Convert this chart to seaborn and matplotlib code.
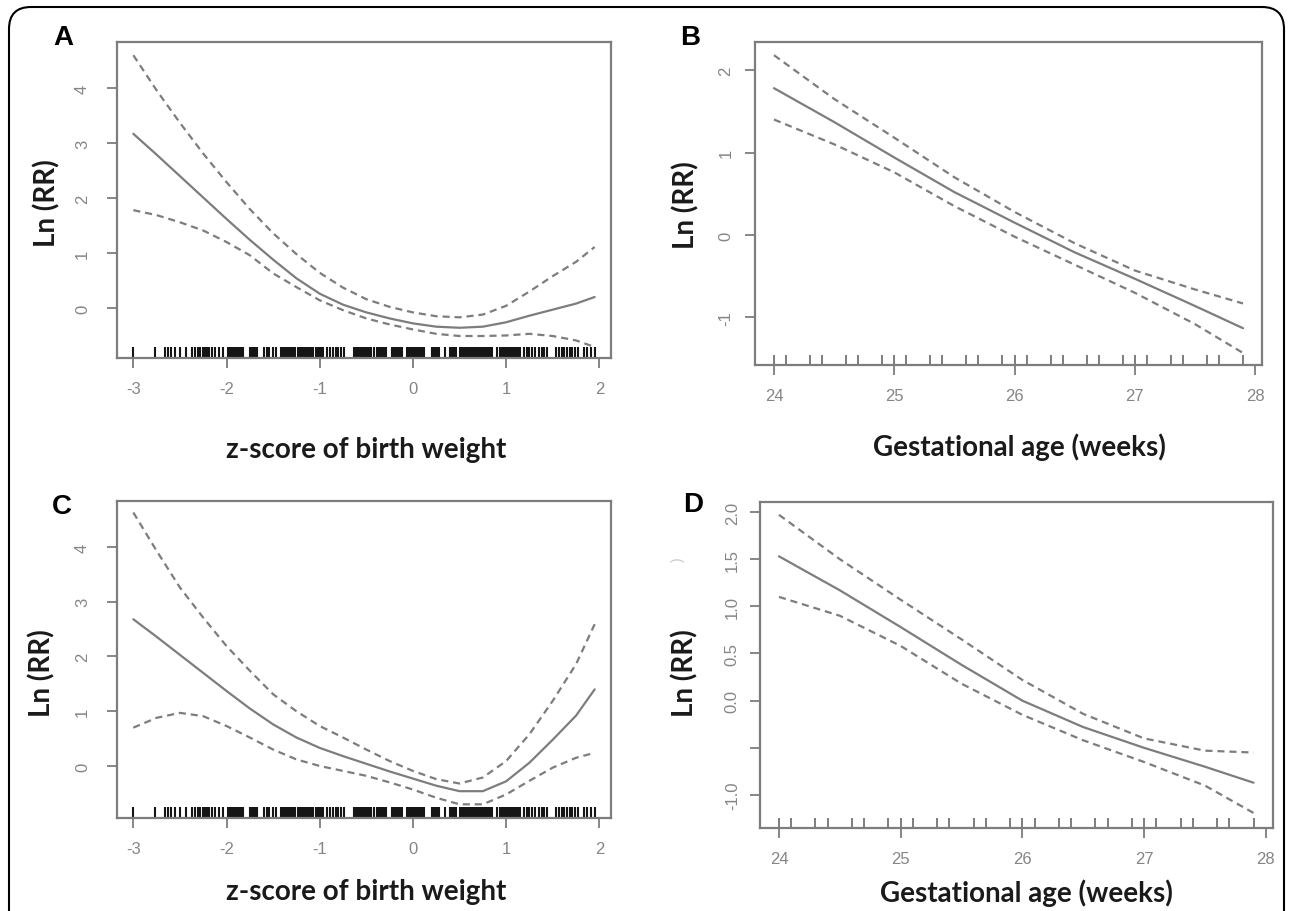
import matplotlib
matplotlib.use("Agg")
import matplotlib.pyplot as plt
import seaborn as sns
from matplotlib.patches import FancyBboxPatch
from matplotlib.transforms import IdentityTransform

# ---- data ----
# z-score of birth weight panels (A: upper, C: lower)
z_grid = [-3.0, -2.75, -2.5, -2.25, -2.0, -1.75, -1.5, -1.25, -1.0, -0.75, -0.5,
          -0.25, 0.0, 0.25, 0.5, 0.75, 1.0, 1.25, 1.5, 1.75, 1.95]
fit_a = [3.17, 2.79, 2.40, 2.01, 1.62, 1.24, 0.88, 0.54, 0.26, 0.06, -0.08,
         -0.19, -0.28, -0.34, -0.36, -0.34, -0.26, -0.14, -0.03, 0.08, 0.20]
upr_a = [4.60, 3.96, 3.37, 2.81, 2.29, 1.80, 1.36, 0.98, 0.64, 0.37, 0.16,
         0.02, -0.08, -0.15, -0.17, -0.12, 0.04, 0.30, 0.58, 0.84, 1.11]
lwr_a = [1.78, 1.69, 1.56, 1.41, 1.20, 0.96, 0.63, 0.38, 0.14, -0.04, -0.19,
         -0.30, -0.39, -0.47, -0.51, -0.51, -0.50, -0.47, -0.51, -0.59, -0.71]

fit_c = [2.68, 2.36, 2.03, 1.70, 1.37, 1.05, 0.76, 0.52, 0.33, 0.18, 0.04,
         -0.10, -0.23, -0.36, -0.46, -0.46, -0.28, 0.06, 0.48, 0.92, 1.40]
upr_c = [4.63, 3.93, 3.26, 2.71, 2.19, 1.74, 1.31, 1.00, 0.73, 0.52, 0.30,
         0.09, -0.09, -0.24, -0.32, -0.21, 0.09, 0.58, 1.19, 1.86, 2.59]
lwr_c = [0.70, 0.88, 0.97, 0.91, 0.73, 0.52, 0.30, 0.12, 0.00, -0.09, -0.18,
         -0.30, -0.43, -0.58, -0.70, -0.70, -0.52, -0.27, -0.03, 0.15, 0.24]

# gestational age panels (B: upper, D: lower)
ga = [24.0, 24.5, 25.0, 25.5, 26.0, 26.5, 27.0, 27.5, 27.9]
fit_b = [1.78, 1.37, 0.94, 0.52, 0.15, -0.21, -0.53, -0.86, -1.13]
upr_b = [2.18, 1.65, 1.18, 0.70, 0.28, -0.10, -0.43, -0.66, -0.83]
lwr_b = [1.40, 1.10, 0.76, 0.35, -0.02, -0.36, -0.70, -1.08, -1.43]

fit_d = [1.53, 1.17, 0.78, 0.38, 0.00, -0.28, -0.50, -0.70, -0.87]
upr_d = [1.97, 1.50, 1.07, 0.65, 0.22, -0.14, -0.40, -0.53, -0.55]
lwr_d = [1.10, 0.90, 0.58, 0.18, -0.15, -0.42, -0.65, -0.90, -1.19]

# rug positions (observations)
rug_z = [
    -3.00, -2.77, -2.66, -2.63, -2.60, -2.55, -2.50, -2.43, -2.37, -2.34,
    -2.31, -2.28, -2.25, -2.23, -2.21, -2.19, -2.16, -2.12, -2.08, -2.04,
    -1.98, -1.96, -1.94, -1.92, -1.90, -1.88, -1.86, -1.84, -1.82,
    -1.75, -1.73, -1.71, -1.69, -1.67,
    -1.60, -1.57, -1.54, -1.50, -1.47,
    -1.42, -1.40, -1.38, -1.36, -1.34, -1.32, -1.30, -1.28, -1.26,
    -1.23, -1.21, -1.19, -1.17, -1.15, -1.13, -1.11, -1.09, -1.07,
    -1.04, -1.02, -1.00, -0.98, -0.96,
    -0.92, -0.89, -0.86, -0.83, -0.80, -0.77, -0.74,
    -0.63, -0.61, -0.59, -0.57, -0.55, -0.53, -0.51, -0.49, -0.47, -0.45,
    -0.42, -0.39, -0.37, -0.35, -0.33, -0.31, -0.29,
    -0.22, -0.20, -0.18, -0.16, -0.14, -0.12,
    -0.06, -0.04, -0.02, 0.00, 0.02, 0.04, 0.06, 0.08, 0.10, 0.12,
    0.20, 0.22, 0.24, 0.26, 0.28, 0.34,
    0.40, 0.42, 0.44, 0.46,
    0.51, 0.53, 0.55, 0.57, 0.59, 0.61, 0.63, 0.65, 0.67, 0.69,
    0.71, 0.73, 0.75, 0.77, 0.79, 0.81, 0.83, 0.85,
    0.90, 0.93, 0.95, 0.97, 0.99, 1.01, 1.03, 1.05, 1.07, 1.09,
    1.11, 1.13, 1.15,
    1.19, 1.22, 1.25, 1.28, 1.31, 1.35, 1.38, 1.41, 1.44,
    1.54, 1.57, 1.60, 1.62, 1.65, 1.68, 1.71, 1.74, 1.77,
    1.83, 1.87, 1.91, 1.95,
]
rug_ga = [24.0, 24.1, 24.3, 24.4, 24.6, 24.7, 24.9,
          25.0, 25.1, 25.3, 25.4, 25.6, 25.7, 25.9,
          26.0, 26.1, 26.3, 26.4, 26.6, 26.7, 26.9,
          27.0, 27.1, 27.3, 27.4, 27.6, 27.7, 27.9]

z_ticks = [-3, -2, -1, 0, 1, 2]
ga_ticks = [24, 25, 26, 27, 28]

# ---- style ----
sns.set_theme(style="white")
plt.rcParams["font.family"] = ["Liberation Sans", "DejaVu Sans"]

W, H = 1290, 912
GREY = "#7d7d7d"
TICK_TXT = "#858585"
DASH = (0, (3.2, 2.2))
LAB_FONT = "Lato"

fig = plt.figure(figsize=(W / 100, H / 100), dpi=100)
fig.patch.set_facecolor("white")


def add_panel(left, top, right, bottom):
    return fig.add_axes([left / W, 1 - bottom / H, (right - left) / W, (bottom - top) / H])


def draw_panel(ax, x, fit, upr, lwr, rug, rug_color, rug_h, rug_w):
    sns.lineplot(x=x, y=fit, ax=ax, color=GREY, lw=1.6, sort=False)
    sns.lineplot(x=x, y=upr, ax=ax, color=GREY, lw=1.6, linestyle=DASH, sort=False)
    sns.lineplot(x=x, y=lwr, ax=ax, color=GREY, lw=1.6, linestyle=DASH, sort=False)
    sns.rugplot(x=rug, ax=ax, height=rug_h, color=rug_color, linewidth=rug_w,
                expand_margins=False)
    for sp in ax.spines.values():
        sp.set_visible(True)
        sp.set_color(GREY)
        sp.set_linewidth(1.6)
    ax.set_facecolor("white")
    ax.grid(False)


def style_axis(ax, xlabel, xlab_px, ylab_px, ypad, box):
    left, top, right, bottom = box
    wpx, hpx = right - left, bottom - top
    ax.tick_params(axis="both", direction="out", length=7.5, width=1.3,
                   color=GREY, labelcolor=TICK_TXT, labelsize=12,
                   bottom=True, left=True)
    ax.tick_params(axis="x", pad=9)
    ax.tick_params(axis="y", pad=ypad, labelrotation=90)
    for lab in ax.get_yticklabels():
        lab.set_va("center")
    ax.set_xlabel(xlabel, fontsize=20, fontweight="bold", family=LAB_FONT, color="#1a1a1a")
    ax.set_ylabel("Ln (RR)", fontsize=20, fontweight="bold", family=LAB_FONT, color="#1a1a1a")
    ax.xaxis.label.set_va("center")
    ax.yaxis.label.set_va("center")
    ax.xaxis.set_label_coords((xlab_px[0] - left) / wpx, -(xlab_px[1] - bottom) / hpx)
    ax.yaxis.set_label_coords(-(left - ylab_px[0]) / wpx, 1 - (ylab_px[1] - top) / hpx)


# Panel A
box_a = (117, 43, 611, 359)
ax_a = add_panel(*box_a)
draw_panel(ax_a, z_grid, fit_a, upr_a, lwr_a, rug_z, "#151515", 0.036, 1.5)
ax_a.set_xlim(-3.175, 2.125)
ax_a.set_ylim(-0.91, 4.84)
ax_a.set_xticks(z_ticks, [str(t) for t in z_ticks])
ax_a.set_yticks([0, 1, 2, 3, 4], ["0", "1", "2", "3", "4"])
style_axis(ax_a, "z-score of birth weight", (366, 450), (47, 203), 12, box_a)

# Panel B
box_b = (755, 43, 1262, 366)
ax_b = add_panel(*box_b)
draw_panel(ax_b, ga, fit_b, upr_b, lwr_b, rug_ga, GREY, 0.032, 1.4)
ax_b.set_xlim(23.842, 28.058)
ax_b.set_ylim(-1.576, 2.34)
ax_b.set_xticks(ga_ticks, [str(t) for t in ga_ticks])
ax_b.set_yticks([-1, 0, 1, 2], ["-1", "0", "1", "2"])
style_axis(ax_b, "Gestational age (weeks)", (1019, 447), (686, 205), 8, box_b)

# Panel C
box_c = (117, 502, 611, 819)
ax_c = add_panel(*box_c)
draw_panel(ax_c, z_grid, fit_c, upr_c, lwr_c, rug_z, "#151515", 0.036, 1.5)
ax_c.set_xlim(-3.175, 2.125)
ax_c.set_ylim(-0.95, 4.84)
ax_c.set_xticks(z_ticks, [str(t) for t in z_ticks])
ax_c.set_yticks([0, 1, 2, 3, 4], ["0", "1", "2", "3", "4"])
style_axis(ax_c, "z-score of birth weight", (366, 892), (42, 673), 12, box_c)

# Panel D
box_d = (760, 503, 1273, 829)
ax_d = add_panel(*box_d)
draw_panel(ax_d, ga, fit_d, upr_d, lwr_d, rug_ga, GREY, 0.032, 1.4)
ax_d.set_xlim(23.844, 28.06)
ax_d.set_ylim(-1.35, 2.106)
ax_d.set_xticks(ga_ticks, [str(t) for t in ga_ticks])
ax_d.set_yticks([-1.0, -0.5, 0.0, 0.5, 1.0, 1.5, 2.0],
                ["-1.0", "", "0.0", "0.5", "1.0", "1.5", "2.0"])
style_axis(ax_d, "Gestational age (weeks)", (1026, 893), (685, 673), 7, box_d)
# faint leftover glyph from the original figure
fig.text(678 / W, 1 - 560 / H, ")", color="#c8c8c8", fontsize=10, rotation=90,
         ha="center", va="center")

# panel letters
for letter, (px, py) in zip("ABCD", [(63, 38), (690, 38), (62, 507), (693, 505)]):
    fig.text(px / W, 1 - py / H, letter, fontsize=20, fontweight="bold",
             ha="center", va="center", color="black")

# rounded outer frame (bottom edge runs past the image)
frame = FancyBboxPatch((9, -60), 1275, 904 + 60,
                       boxstyle="round,pad=0,rounding_size=22",
                       transform=IdentityTransform(), fill=False,
                       edgecolor="black", linewidth=1.5)
fig.patches.append(frame)

fig.savefig("out.png", dpi=100)
